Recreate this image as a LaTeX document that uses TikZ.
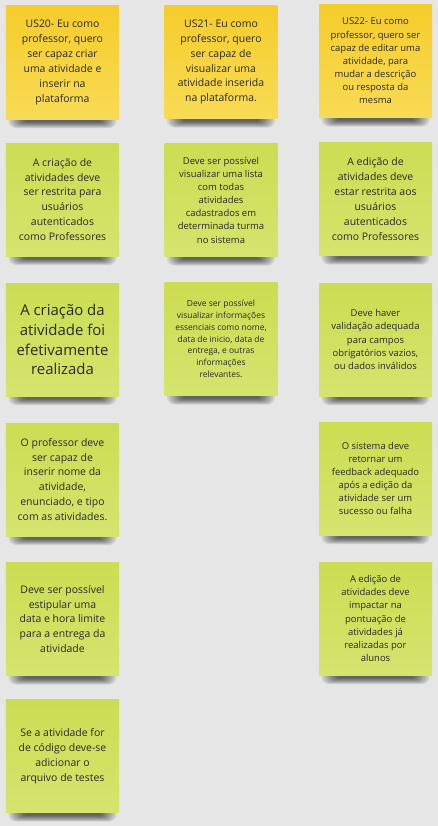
\documentclass[tikz,border=0pt]{standalone}
\usepackage{fontspec}
\setmainfont{Open Sans}
\definecolor{bg}{HTML}{E6E6E6}
\definecolor{yTop}{HTML}{F5CC2B}
\definecolor{yBot}{HTML}{F8DB55}
\definecolor{gTop}{HTML}{CBDD52}
\definecolor{gBot}{HTML}{D5E46E}
\definecolor{txt}{HTML}{2A2A2A}
\tikzset{
  sticky/.style={minimum width=113bp, minimum height=113bp, inner sep=0pt, align=center, text=txt},
  yel/.style={sticky, top color=yTop, bottom color=yBot},
  grn/.style={sticky, top color=gTop, bottom color=gBot},
  big/.style={font=\fontsize{10.5}{15}\selectfont},
  mid/.style={font=\fontsize{9.5}{13.2}\selectfont},
  small/.style={font=\fontsize{8.5}{11.8}\selectfont},
  huge/.style={font=\fontsize{15}{20}\selectfont},
  shadowlayer/.style={fill=black, opacity=0.085}
}
\newcommand{\dropshadow}[1]{%
  \begin{scope}[shift={(#1.south)}]
    \foreach \i in {1,...,9}{
      \pgfmathsetmacro{\w}{36+2*\i}
      \pgfmathsetmacro{\h}{0.6+0.75*\i}
      \fill[shadowlayer, rounded corners=\h bp] (-\w,1.5-\h) rectangle (\w,1.5+\h);
    }
  \end{scope}}
\begin{document}
\begin{tikzpicture}[x=1bp,y=-1bp]
\useasboundingbox (0,0) rectangle (438,826);
\fill[bg] (0,0) rectangle (438,826);
% placeholders that fix each note's place, used for the shadows
\node[sticky, draw=none] (s1) at (62.5,62.5) {};
\node[sticky, draw=none] (s2) at (221,62) {};
\node[sticky, draw=none] (s3) at (375.5,61) {};
\node[sticky, draw=none] (s4) at (62.5,199.5) {};
\node[sticky, draw=none] (s5) at (221,200) {};
\node[sticky, draw=none] (s6) at (375.5,199) {};
\node[sticky, draw=none] (s7) at (62.5,339.5) {};
\node[sticky, draw=none] (s8) at (221,339) {};
\node[sticky, draw=none] (s9) at (375.5,339.5) {};
\node[sticky, draw=none] (s10) at (62.5,479.5) {};
\node[sticky, draw=none] (s11) at (375.5,478.5) {};
\node[sticky, draw=none] (s12) at (62.5,619) {};
\node[sticky, draw=none] (s13) at (375.5,618.5) {};
\node[sticky, draw=none] (s14) at (62.5,756) {};
\foreach \s in {s1,s2,s3,s4,s5,s6,s7,s8,s9,s10,s11,s12,s13,s14}{\dropshadow{\s}}
% notes
\node[yel, big] (us20) at (s1) {US20- Eu como\\professor, quero\\ser capaz criar\\uma atividade e\\inserir na\\plataforma};
\node[yel, big] (us21) at (s2) {US21- Eu como\\professor, quero\\ser capaz de\\visualizar uma\\atividade inserida\\na plataforma.};
\node[yel, mid] (us22) at (s3) {US22- Eu como\\professor, quero ser\\capaz de editar uma\\atividade, para\\mudar a descrição\\ou resposta da\\mesma};
\node[grn, big] (a1) at (s4) {A criação de\\atividades deve\\ser restrita para\\usuários\\autenticados\\como Professores};
\node[grn, mid] (b1) at (s5) {Deve ser possível\\visualizar uma lista\\com todas\\atividades\\cadastrados em\\determinada turma\\no sistema};
\node[grn, big] (c1) at (s6) {A edição de\\atividades deve\\estar restrita aos\\usuários\\autenticados\\como Professores};
\node[grn, huge] (a2) at (s7) {A criação da\\atividade foi\\efetivamente\\realizada};
\node[grn, small] (b2) at (s8) {Deve ser possível\\visualizar informações\\essenciais como nome,\\data de inicio, data de\\entrega, e outras\\informações\\relevantes.};
\node[grn, mid] (c2) at (s9) {Deve haver\\validação adequada\\para campos\\obrigatórios vazios,\\ou dados inválidos};
\node[grn, big] (a3) at (s10) {O professor deve\\ser capaz de\\inserir nome da\\atividade,\\enunciado, e tipo\\com as atividades.};
\node[grn, mid] (c3) at (s11) {O sistema deve\\retornar um\\feedback adequado\\após a edição da\\atividade ser um\\sucesso ou falha};
\node[grn, big] (a4) at (s12) {Deve ser possível\\estipular uma\\data e hora limite\\para a entrega da\\atividade};
\node[grn, mid] (c4) at (s13) {A edição de\\atividades deve\\impactar na\\pontuação de\\atividades já\\realizadas por\\alunos};
\node[grn, big] (a5) at (s14) {Se a atividade for\\de código deve-se\\adicionar o\\arquivo de testes};
\end{tikzpicture}
\end{document}
